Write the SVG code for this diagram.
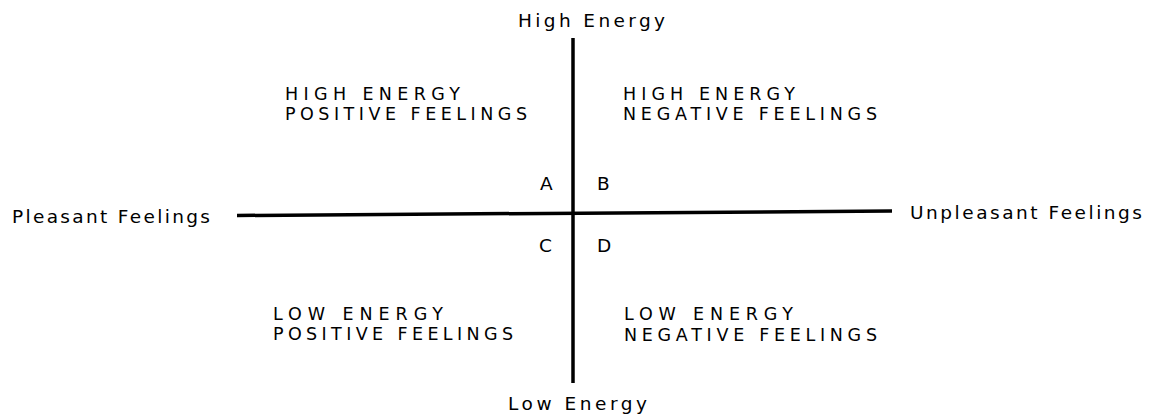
<svg xmlns="http://www.w3.org/2000/svg" width="1151" height="415" viewBox="0 0 1151 415">
<style>
text{font-family:"DejaVu Sans","Liberation Sans",Arial,sans-serif;font-size:18.5px;fill:#000}
.q{font-size:17.5px}
.ax{stroke:#000;stroke-width:3.5;fill:none;stroke-linecap:butt}
</style>
<rect width="1151" height="415" fill="#fff"/>
<g id="connectors">
<line class="ax" x1="573" y1="38" x2="573" y2="383"/>
<line class="ax" x1="237" y1="215.5" x2="892" y2="211"/>
</g>
<g id="high-energy"><text x="518" y="27" textLength="147" lengthAdjust="spacing">High Energy</text></g>
<g id="low-energy"><text x="508" y="410" textLength="139" lengthAdjust="spacing">Low Energy</text></g>
<g id="pleasant"><text x="12" y="223" textLength="198" lengthAdjust="spacing">Pleasant Feelings</text></g>
<g id="unpleasant"><text x="910" y="219" textLength="232" lengthAdjust="spacing">Unpleasant Feelings</text></g>
<g id="quadrant-a">
<text class="q" x="285" y="100" textLength="175" lengthAdjust="spacing">HIGH ENERGY</text>
<text class="q" x="285" y="120" textLength="242" lengthAdjust="spacing">POSITIVE FEELINGS</text>
<text x="540" y="190">A</text>
</g>
<g id="quadrant-b">
<text class="q" x="623" y="100" textLength="172" lengthAdjust="spacing">HIGH ENERGY</text>
<text class="q" x="623" y="120" textLength="254" lengthAdjust="spacing">NEGATIVE FEELINGS</text>
<text x="597" y="190">B</text>
</g>
<g id="quadrant-c">
<text x="539" y="252">C</text>
<text class="q" x="273" y="320" textLength="170" lengthAdjust="spacing">LOW ENERGY</text>
<text class="q" x="273" y="340" textLength="240" lengthAdjust="spacing">POSITIVE FEELINGS</text>
</g>
<g id="quadrant-d">
<text x="597" y="252">D</text>
<text class="q" x="624" y="320" textLength="169" lengthAdjust="spacing">LOW ENERGY</text>
<text class="q" x="624" y="341" textLength="253" lengthAdjust="spacing">NEGATIVE FEELINGS</text>
</g>
</svg>
